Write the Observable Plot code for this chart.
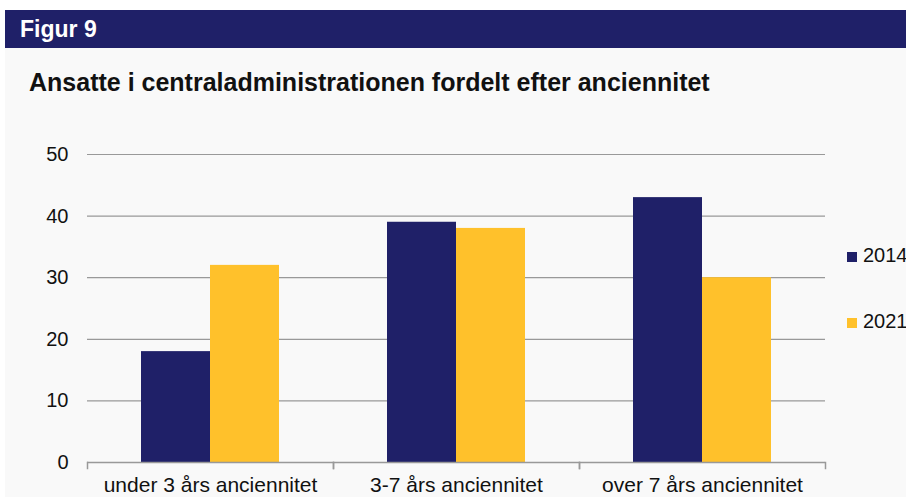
<!DOCTYPE html>
<html><head><meta charset="utf-8">
<script src="https://cdn.jsdelivr.net/npm/d3@7"></script>
<script src="https://cdn.jsdelivr.net/npm/@observablehq/plot@0.6"></script>
<style>
html,body{margin:0;padding:0;background:#fff;}
#page{position:relative;width:906px;height:497px;overflow:hidden;font-family:"Liberation Sans",Arial,sans-serif;}
#bg{position:absolute;left:5px;top:10px;right:0;bottom:0;background:#f9f9f9;}
#banner{position:absolute;left:5px;top:10px;width:901px;height:38px;background:#1f2068;color:#fff;font-weight:bold;font-size:23px;line-height:38px;padding-left:15px;box-sizing:border-box;}
#title{position:absolute;left:29px;top:68px;font-weight:bold;font-size:25px;line-height:28px;color:#111;white-space:nowrap;}
#chart{position:absolute;left:0;top:120px;}
#legend{position:absolute;left:847px;top:0;font-size:20px;color:#111;}
.item{position:absolute;white-space:nowrap;line-height:20px;}
.sw{display:inline-block;width:10px;height:10px;margin-right:6px;vertical-align:0px;}
</style></head>
<body>
<div id="page">
  <div id="bg"></div>
  <div id="banner">Figur 9</div>
  <div id="title">Ansatte i centraladministrationen fordelt efter anciennitet</div>
  <div id="chart"></div>
  <div id="legend"></div>
</div>
<script>
const categories = ["under 3 års anciennitet", "3-7 års anciennitet", "over 7 års anciennitet"];
const years = ["2014", "2021"];
const values2014 = [18, 39, 43];
const values2021 = [32, 38, 30];
const colors = ["#1f2068", "#ffc12b"];
const yTicks = [0, 10, 20, 30, 40, 50];

const data = [];
categories.forEach((c, i) => {
  data.push({cat: c, year: "2014", value: values2014[i]});
  data.push({cat: c, year: "2021", value: values2021[i]});
});

const font = '"Liberation Sans", Arial, sans-serif';
const chart = Plot.plot({
  width: 906,
  height: 377,
  marginLeft: 86,
  marginRight: 81,
  marginTop: 34,
  marginBottom: 35,
  style: {background: "transparent", fontFamily: font, fontSize: "20px", color: "#111"},
  fx: {domain: categories, paddingInner: 0, paddingOuter: 0, label: null},
  x: {domain: years, paddingInner: 0, paddingOuter: 0.76, axis: null},
  y: {domain: [0, 50], label: null},
  color: {domain: years, range: colors},
  marks: [
    Plot.gridY(yTicks, {stroke: "#999", strokeOpacity: 1, strokeWidth: 1.2}),
    Plot.barY(data, {fx: "cat", x: "year", y: "value", fill: "year"}),
    Plot.ruleY([0], {stroke: "#999", strokeWidth: 1.5}),
    Plot.frame({anchor: "left", stroke: "#999", strokeWidth: 1.5, insetTop: 308, insetBottom: -6}),
    Plot.frame({anchor: "right", stroke: "#999", strokeWidth: 1.5, insetTop: 308, insetBottom: -6}),
    Plot.axisY(yTicks, {tickSize: 0, tickPadding: 19, fontSize: 20, fill: "#111"}),
    Plot.axisFx({anchor: "bottom", tickSize: 0, tickPadding: 15, fontSize: 21, fill: "#111", label: null})
  ]
});
document.getElementById("chart").appendChild(chart);

const legend = document.getElementById("legend");
const legendTops = [245, 311];
years.forEach((y, i) => {
  const d = document.createElement("div");
  d.className = "item";
  d.style.top = legendTops[i] + "px";
  d.innerHTML = `<span class="sw" style="background:${colors[i]}"></span>${y}`;
  legend.appendChild(d);
});
</script>
</body></html>
